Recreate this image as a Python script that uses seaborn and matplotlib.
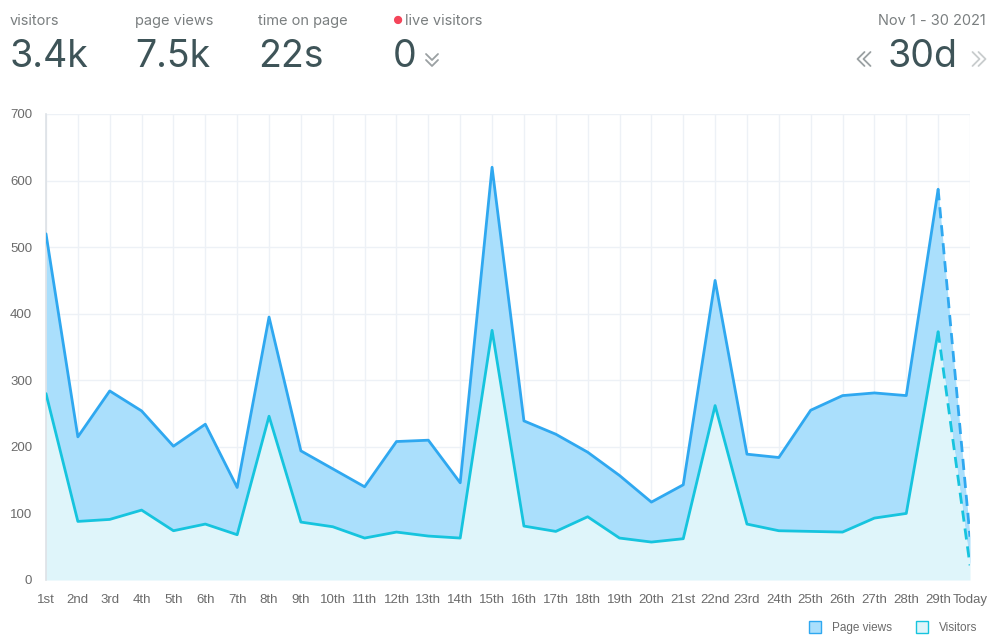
import numpy as np
import pandas as pd
import matplotlib.pyplot as plt
from matplotlib.lines import Line2D
import seaborn as sns

days = ["1st", "2nd", "3rd", "4th", "5th", "6th", "7th", "8th", "9th", "10th",
        "11th", "12th", "13th", "14th", "15th", "16th", "17th", "18th", "19th", "20th",
        "21st", "22nd", "23rd", "24th", "25th", "26th", "27th", "28th", "29th", "Today"]
page_views = [520, 215, 284, 254, 201, 234, 139, 395, 194, 167,
              140, 208, 210, 146, 620, 239, 219, 192, 157, 117,
              143, 450, 189, 184, 255, 277, 281, 277, 587, 65]
visitors = [280, 88, 91, 105, 74, 84, 68, 246, 87, 80,
            63, 72, 66, 63, 375, 81, 73, 95, 63, 57,
            62, 262, 84, 74, 73, 72, 93, 100, 373, 22]

stat_labels = ["visitors", "page views", "time on page", "live visitors"]
stat_values = ["3.4k", "7.5k", "22s", "0"]
date_range = "Nov 1 - 30 2021"
period = "30d"

PV_LINE = "#2fa8f0"
PV_FILL = "#aadffc"
VI_LINE = "#16c4de"
VI_FILL = "#dff5fa"
GRID = "#edf1f6"
TICK_TXT = "#6b6b6b"
DARK = "#3e5458"
LABEL = "#7a7f80"

sns.set_theme(style="white")
plt.rcParams["font.family"] = ["Inter", "DejaVu Sans"]

df = pd.DataFrame({"x": np.arange(len(days)), "day": days,
                   "pv": page_views, "vi": visitors})
solid = df.iloc[:-1]
tail = df.iloc[-2:]

fig = plt.figure(figsize=(9.88, 6.35), dpi=100)
ax = fig.add_axes([46 / 988, 55 / 635, 924 / 988, 466 / 635])

ax.fill_between(df["x"], df["vi"], df["pv"], color=PV_FILL, lw=0, zorder=1)
ax.fill_between(df["x"], 0, df["vi"], color=VI_FILL, lw=0, zorder=1)

sns.lineplot(data=solid, x="x", y="pv", ax=ax, color=PV_LINE, lw=2, zorder=3)
sns.lineplot(data=solid, x="x", y="vi", ax=ax, color=VI_LINE, lw=2, zorder=3)
sns.lineplot(data=tail, x="x", y="pv", ax=ax, color=PV_LINE, lw=2, zorder=3,
             linestyle=(0, (4, 2.5)))
sns.lineplot(data=tail, x="x", y="vi", ax=ax, color=VI_LINE, lw=2, zorder=3,
             linestyle=(0, (4, 2.5)))

ax.set_xlim(0, len(days) - 1)
ax.set_ylim(0, 700)
ax.set_xticks(df["x"])
ax.set_xticklabels(days)
ax.set_yticks(range(0, 701, 100))
ax.set_xlabel("")
ax.set_ylabel("")
ax.grid(True, color=GRID, lw=1)
ax.set_axisbelow(True)
for s in ["top", "right", "bottom"]:
    ax.spines[s].set_visible(False)
ax.spines["left"].set_color("#dde1e6")
ax.spines["left"].set_linewidth(1.2)
ax.tick_params(axis="both", labelsize=9, colors=TICK_TXT, length=6, width=1,
               pad=2)
ax.tick_params(axis="x", color=GRID, length=8)
ax.tick_params(axis="y", color="#dde1e6", length=8)
for t in ax.get_xticklabels() + ax.get_yticklabels():
    t.set_family(["Liberation Sans", "DejaVu Sans"])
    t.set_fontsize(9.5)

# header stats
xs = [10, 135, 258, 393]
for x, lab, val in zip(xs, stat_labels, stat_values):
    tx = x + (12 if lab == "live visitors" else 0)
    fig.text(tx / 988, 1 - 21 / 635, lab, fontsize=10.5, color=LABEL, va="center")
    fig.text(x / 988, 1 - 57 / 635, val, fontsize=27, color=DARK, va="center")
fig.text(397 / 988, 1 - 21 / 635, "\u25cf", fontsize=8, color="#f4455a",
         va="center", ha="center")

fig.text(986 / 988, 1 - 21 / 635, date_range, fontsize=10.5, color=LABEL,
         va="center", ha="right")
fig.text(923 / 988, 1 - 57 / 635, period, fontsize=27, color=DARK,
         va="center", ha="center")


def chevron(cx, cy, w, h, direction, color, double=False):
    # small chevron drawn in figure pixels
    offs = [-3, 3] if double else [0]
    for o in offs:
        if direction == "down":
            px = [cx - w, cx, cx + w]
            py = [cy + h + o, cy - h + o, cy + h + o]
        elif direction == "left":
            px = [cx + w + o, cx - w + o, cx + w + o]
            py = [cy + h, cy, cy - h]
        else:
            px = [cx - w + o, cx + w + o, cx - w + o]
            py = [cy + h, cy, cy - h]
        fig.add_artist(Line2D([p / 988 for p in px], [1 - q / 635 for q in py],
                              color=color, lw=1.3, transform=fig.transFigure))


chevron(432, 60, 6, -3, "down", "#9aa0a2", double=True)
chevron(864, 59, 3.5, 7, "left", "#9aa0a2", double=True)
chevron(979, 59, 3.5, 7, "right", "#c8cccd", double=True)

handles = [
    Line2D([], [], marker="s", ls="", ms=9, markerfacecolor=PV_FILL,
           markeredgecolor=PV_LINE, label="Page views"),
    Line2D([], [], marker="s", ls="", ms=9, markerfacecolor=VI_FILL,
           markeredgecolor=VI_LINE, label="Visitors"),
]
fig.legend(handles=handles, loc="center right", bbox_to_anchor=(1.0, 1 - 628 / 635),
           ncol=2, frameon=False, labelcolor=TICK_TXT,
           prop={"family": ["Liberation Sans"], "size": 8.5},
           handletextpad=0.4, columnspacing=1.6)

fig.savefig("out.png", dpi=100)
